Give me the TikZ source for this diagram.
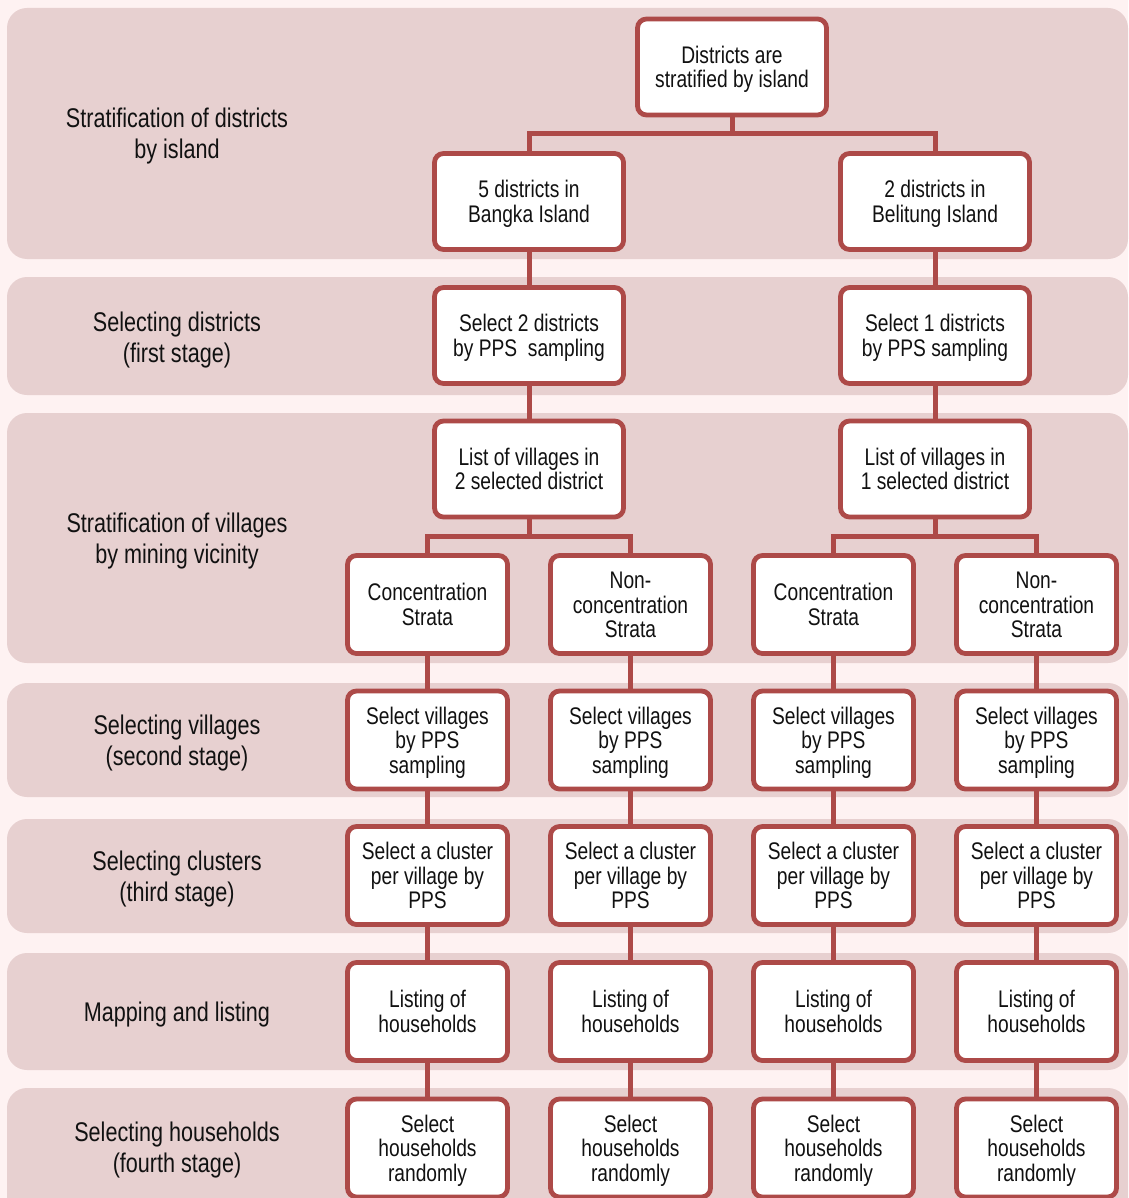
\documentclass[tikz,border=0pt]{standalone}
\usepackage{fontspec}
\setmainfont{Liberation Sans}[FakeStretch=0.8]
\definecolor{pagebg}{HTML}{FEF2F2}
\definecolor{bandfill}{HTML}{E7D0D0}
\definecolor{boxline}{HTML}{AD4A48}
\definecolor{inktext}{HTML}{111111}
% balanced struts: the first line gets a tall strut, the last line a deep one,
% so every text block is centred on its cap-to-baseline span
\newcommand\boxtxt[1]{\rule{0pt}{23.2pt}#1\rule[-6pt]{0pt}{6pt}}
\newcommand\stagetxt[1]{\rule{0pt}{26.3pt}#1\rule[-7pt]{0pt}{7pt}}
\tikzset{
  band/.style={fill=bandfill, draw=none, rounded corners=20pt},
  stagebox/.style={draw=boxline, line width=4.8pt, fill=white, rounded corners=9pt,
    align=center, text=inktext, inner sep=2pt,
    font=\fontsize{24}{24.5}\selectfont},
  widebox/.style={stagebox, minimum width=189pt, minimum height=96pt},
  narrowbox/.style={stagebox, minimum width=160pt, minimum height=98pt},
  steplabel/.style={align=center, text=inktext, font=\fontsize{27}{31}\selectfont},
  link/.style={draw=boxline, line width=5pt}
}
\begin{document}
\begin{tikzpicture}[x=1pt, y=-1pt]
  % page and stage bands
  \fill[pagebg] (0,0) rectangle (1128,1198);
  \useasboundingbox (0,0) rectangle (1128,1198);
  \clip (0,0) rectangle (1128,1198);
  \fill[band] (7,8) rectangle (1128,259);
  \fill[band] (7,277) rectangle (1128,395);
  \fill[band] (7,413) rectangle (1128,663);
  \fill[band] (7,683) rectangle (1128,797);
  \fill[band] (7,819) rectangle (1128,933);
  \fill[band] (7,953) rectangle (1128,1070);
  \fill[band] (7,1088) rectangle (1128,1230);

  % stage labels
  \node[steplabel] (l1) at (177,133) {\stagetxt{Stratification of districts\\by island}};
  \node[steplabel] (l2) at (177,337) {\stagetxt{Selecting districts\\(first stage)}};
  \node[steplabel] (l3) at (177,538) {\stagetxt{Stratification of villages\\by mining vicinity}};
  \node[steplabel] (l4) at (177,740) {\stagetxt{Selecting villages\\(second stage)}};
  \node[steplabel] (l5) at (177,876) {\stagetxt{Selecting clusters\\(third stage)}};
  \node[steplabel] (l6) at (177,1012) {\stagetxt{Mapping and listing}};
  \node[steplabel] (l7) at (177,1147) {\stagetxt{Selecting households\\(fourth stage)}};

  % island level
  \node[widebox] (top) at (732,67) {\boxtxt{Districts are\\stratified by island}};
  \node[widebox] (bA) at (529,201.5) {\boxtxt{5 districts in\\Bangka Island}};
  \node[widebox] (bB) at (935,201.5) {\boxtxt{2 districts in\\Belitung Island}};
  \node[widebox] (sA) at (529,335.5) {\boxtxt{Select 2 districts\\by PPS\ \ sampling}};
  \node[widebox] (sB) at (935,335.5) {\boxtxt{Select 1 districts\\by PPS sampling}};
  \node[widebox] (vA) at (529,469) {\boxtxt{List of villages in\\2 selected district}};
  \node[widebox] (vB) at (935,469) {\boxtxt{List of villages in\\1 selected district}};

  % four strata columns
  \foreach \k/\x in {1/427.5, 2/630.5, 3/833.5, 4/1036.5} {
    \node[narrowbox] (sel\k) at (\x,740) {\boxtxt{Select villages\\by PPS\\sampling}};
    \node[narrowbox] (cl\k) at (\x,875.5) {\boxtxt{Select a cluster\\per village by\\PPS}};
    \node[narrowbox] (li\k) at (\x,1011.5) {\boxtxt{Listing of\\households}};
    \node[narrowbox] (hh\k) at (\x,1148) {\boxtxt{Select\\households\\randomly}};
  }
  \node[narrowbox] (st1) at (427.5,604.5) {\boxtxt{Concentration\\Strata}};
  \node[narrowbox] (st2) at (630.5,604.5) {\boxtxt{Non-\\concentration\\Strata}};
  \node[narrowbox] (st3) at (833.5,604.5) {\boxtxt{Concentration\\Strata}};
  \node[narrowbox] (st4) at (1036.5,604.5) {\boxtxt{Non-\\concentration\\Strata}};

  % connectors
  \draw[link] (top.south) -- ++(0,16) -| (bA.north);
  \draw[link] (top.south) -- ++(0,16) -| (bB.north);
  \draw[link] (bA) -- (sA);
  \draw[link] (bB) -- (sB);
  \draw[link] (sA) -- (vA);
  \draw[link] (sB) -- (vB);
  \draw[link] (vA.south) -- ++(0,17) -| (st1.north);
  \draw[link] (vA.south) -- ++(0,17) -| (st2.north);
  \draw[link] (vB.south) -- ++(0,17) -| (st3.north);
  \draw[link] (vB.south) -- ++(0,17) -| (st4.north);
  \foreach \k in {1,2,3,4} {
    \draw[link] (st\k) -- (sel\k);
    \draw[link] (sel\k) -- (cl\k);
    \draw[link] (cl\k) -- (li\k);
    \draw[link] (li\k) -- (hh\k);
  }
\end{tikzpicture}
\end{document}
